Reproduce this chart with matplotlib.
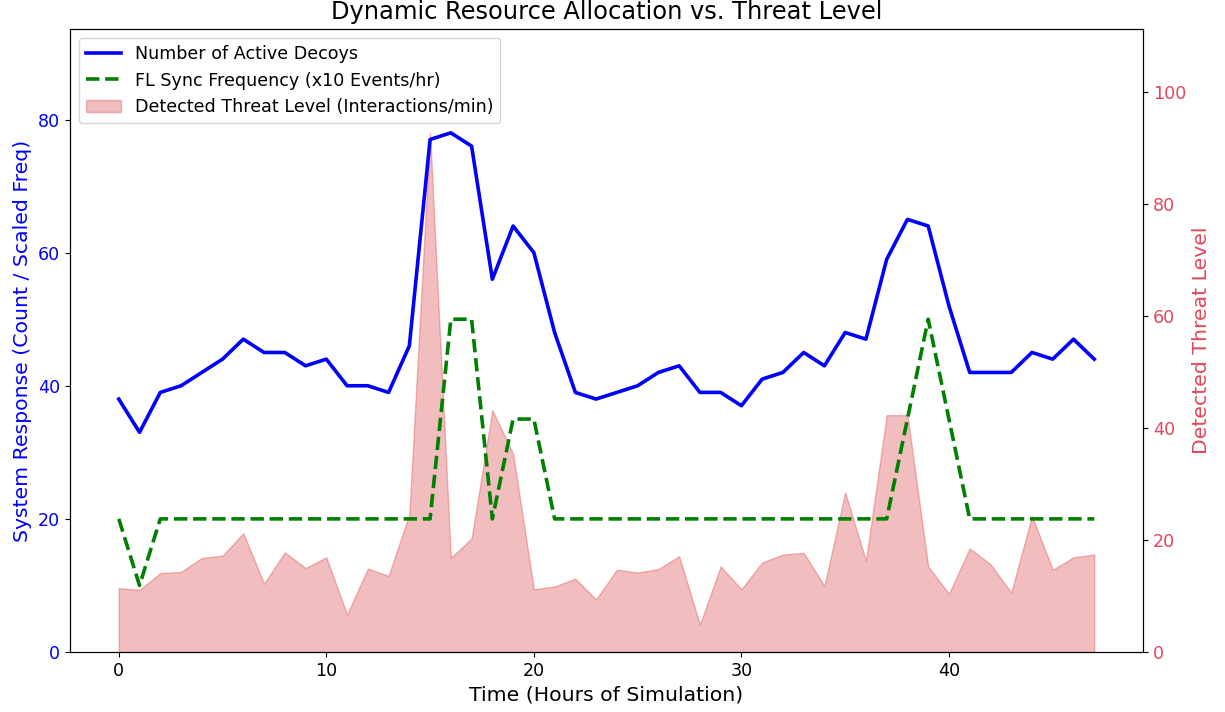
import matplotlib.pyplot as plt
import numpy as np

hours = np.arange(48)

decoys = [38, 33, 39, 40, 42, 44, 47, 45, 45, 43, 44, 40, 40, 39, 46, 77,
          78, 76, 56, 64, 60, 48, 39, 38, 39, 40, 42, 43, 39, 39, 37, 41,
          42, 45, 43, 48, 47, 59, 65, 64, 52, 42, 42, 42, 45, 44, 47, 44]

fl_sync = [2, 1, 2, 2, 2, 2, 2, 2, 2, 2, 2, 2, 2, 2, 2, 2,
           5, 5, 2, 3.5, 3.5, 2, 2, 2, 2, 2, 2, 2, 2, 2, 2, 2,
           2, 2, 2, 2, 2, 2, 3.5, 5, 3.5, 2, 2, 2, 2, 2, 2, 2]

threat = [11.4, 11.1, 14.1, 14.3, 16.8, 17.2, 21.2, 12.2, 17.8, 15.0, 16.9, 6.7,
          14.9, 13.6, 24.6, 92.7, 16.8, 20.3, 43.2, 35.4, 11.2, 11.7, 13.1, 9.4,
          14.7, 14.2, 14.8, 17.1, 4.9, 15.3, 11.2, 16.0, 17.4, 17.7, 11.8, 28.5,
          16.3, 42.3, 42.3, 15.3, 10.4, 18.5, 15.7, 10.6, 24.3, 14.7, 16.9, 17.4]

fl_scaled = [v * 10 for v in fl_sync]

red = "#e2475a"

fig = plt.figure(figsize=(12.25, 7.12), dpi=100)
ax1 = fig.add_axes([70 / 1225, 60 / 712, 1073 / 1225, 623 / 712])
ax2 = ax1.twinx()

# threat area on the right axis, kept behind the lines
ax1.set_zorder(2)
ax1.patch.set_visible(False)
area = ax2.fill_between(hours, threat, color="tab:red", alpha=0.3,
                        label="Detected Threat Level (Interactions/min)")
ax2.set_ylim(0, max(threat) * 1.2)

l1, = ax1.plot(hours, decoys, color="blue", linewidth=2.6, label="Number of Active Decoys")
l2, = ax1.plot(hours, fl_scaled, color="green", linestyle="--", linewidth=2.6,
               label="FL Sync Frequency (x10 Events/hr)")
ax1.set_ylim(0, max(decoys) * 1.2)

ax1.set_xlabel("Time (Hours of Simulation)", fontsize=14.7)
ax1.set_ylabel("System Response (Count / Scaled Freq)", color="blue", fontsize=14.7)
ax2.set_ylabel("Detected Threat Level", color=red, fontsize=14.7)
ax1.tick_params(axis="y", labelcolor="blue", labelsize=12.6)
ax1.tick_params(axis="x", labelsize=12.6)
ax2.tick_params(axis="y", labelcolor=red, labelsize=12.6)

ax1.set_title("Dynamic Resource Allocation vs. Threat Level", fontsize=17.4, pad=7)

ax1.legend([l1, l2, area], [l1.get_label(), l2.get_label(), area.get_label()],
           loc="upper left", fontsize=12.6)

fig.savefig("out.png", dpi=100)
